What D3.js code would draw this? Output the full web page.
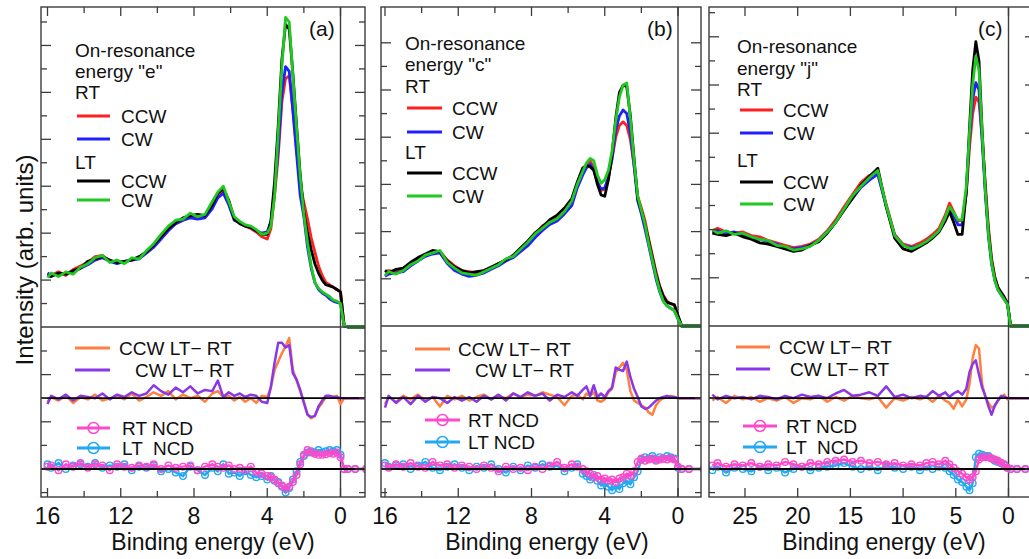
<!DOCTYPE html>
<html>
<head>
<meta charset="utf-8">
<script src="https://cdn.jsdelivr.net/npm/d3@7"></script>
<style>
  body { margin: 0; background: #fff; }
  svg { display: block; font-family: "Liberation Sans", Arial, sans-serif; }
  text { white-space: pre; fill: #111; }
</style>
</head>
<body>
<svg id="chart" width="1029" height="559"></svg>
<script>
// ---- panel (a): on-resonance energy "e" ----
const energyA = [16.0,15.8,15.4,15.0,14.6,14.2,13.8,13.4,13.0,12.6,12.2,11.8,11.4,11.0,
  10.6,10.2,9.8,9.4,9.0,8.6,8.2,7.8,7.4,7.0,
  6.7,6.4,6.1,5.8,5.5,5.2,4.9,4.6,4.3,4.0,
  3.8,3.6,3.4,3.2,3.0,2.8,2.6,2.4,2.2,2.0,1.8,1.6,1.4,1.2,1.0,0.8,0.6,0.4,0.2,0.0,
  -0.2,-0.4,-0.8,-1.4];
const rtCcwA = [2.25,2.20,2.35,2.20,2.45,2.60,2.75,3.00,3.05,2.80,2.80,2.75,2.90,2.95,
  3.20,3.45,3.80,4.20,4.40,4.55,4.70,4.65,4.70,5.15,
  5.55,5.80,5.30,4.60,4.45,4.30,4.20,4.05,3.85,3.75,
  4.20,5.60,7.30,9.60,10.60,10.70,9.30,7.60,6.10,5.30,4.60,3.80,3.20,2.60,2.20,1.90,1.80,1.70,1.60,1.50,
  0.05,0,0,0];
const rtCwA = [2.30,2.20,2.25,2.30,2.35,2.50,2.65,2.85,2.95,2.80,2.70,2.80,2.85,2.90,
  3.15,3.40,3.75,4.10,4.40,4.55,4.65,4.60,4.65,5.05,
  5.50,5.70,5.20,4.55,4.45,4.35,4.25,4.10,4.00,4.05,
  4.50,5.80,7.60,10.00,11.10,10.90,9.20,7.40,5.60,4.70,3.40,2.50,1.90,1.60,1.45,1.35,1.20,1.10,1.05,1.00,
  0.05,0,0,0];
const ltCcwA = [2.20,2.15,2.30,2.25,2.40,2.50,2.80,2.90,3.00,2.85,2.75,2.80,2.85,3.00,
  3.20,3.50,3.85,4.20,4.45,4.65,4.75,4.80,4.75,5.20,
  5.70,5.90,5.40,4.60,4.40,4.30,4.25,4.10,3.95,3.95,
  4.50,6.20,8.60,11.40,12.90,12.70,10.80,8.60,6.50,4.90,4.00,3.30,2.70,2.30,2.00,1.80,1.75,1.70,1.60,1.50,
  0.05,0,0,0];
const ltCwA = [2.10,2.30,2.15,2.35,2.25,2.55,2.70,2.95,3.05,2.75,2.85,2.70,2.95,2.90,
  3.25,3.55,3.95,4.30,4.55,4.60,4.85,4.70,4.80,5.35,
  5.75,6.00,5.35,4.70,4.50,4.35,4.30,4.15,3.95,4.00,
  4.30,5.60,8.30,11.10,13.20,13.00,10.70,8.50,6.40,4.80,3.60,2.60,1.90,1.65,1.50,1.40,1.30,1.15,1.10,1.00,
  0.05,0,0,0];
const diffCcwA = [-0.15,0.05,-0.10,0.10,-0.20,0.05,-0.05,0.15,-0.10,0.00,0.10,-0.05,0.20,-0.10,
  0.05,0.25,0.10,0.30,-0.05,0.15,0.00,0.10,-0.15,0.20,
  0.30,0.05,0.10,-0.10,0.05,-0.15,0.00,-0.20,0.10,0.05,
  0.45,1.20,1.55,1.90,2.20,2.55,1.20,0.75,0.30,-0.15,-0.70,-0.85,-0.75,-0.40,-0.20,0.05,0.10,0.05,0.10,-0.25,
  0,0,0,0];
const diffCwA = [-0.25,0.10,-0.05,0.15,-0.10,0.10,0.05,0.00,0.20,-0.05,0.15,0.05,0.25,0.10,
  0.20,0.55,0.30,0.15,0.45,0.25,0.50,0.20,0.35,0.30,
  0.75,0.05,0.25,0.10,0.20,0.05,0.15,0.10,-0.15,-0.20,
  0.50,1.50,2.35,2.35,2.15,2.25,1.05,0.80,0.35,-0.20,-0.70,-0.80,-0.75,-0.35,-0.10,0.10,0.10,0.05,0.05,0.00,
  0,0,0,0];
const ncdRtA = [0.10,0.15,-0.05,0.20,0.10,0.25,0.05,0.20,0.15,-0.05,0.20,0.10,0.05,0.15,
  0.10,0.20,0.00,0.15,0.05,0.10,0.15,-0.05,0.10,0.20,
  0.10,0.05,0.15,0.00,0.05,-0.05,0.10,-0.15,-0.20,-0.30,
  -0.35,-0.45,-0.60,-0.70,-0.85,-0.75,-0.55,-0.25,0.20,0.60,0.80,0.70,0.65,0.60,0.60,0.62,0.68,0.65,0.70,0.50,
  0,0,0,0];
const ncdLtA = [0.20,0.05,0.25,0.00,0.15,0.20,0.10,0.25,0.05,0.15,0.10,0.20,-0.05,0.10,
  0.05,0.15,-0.10,0.00,-0.15,-0.30,0.10,-0.05,-0.25,0.05,
  -0.10,0.20,-0.20,-0.15,-0.30,-0.10,-0.25,-0.35,-0.30,-0.45,
  -0.30,-0.50,-0.55,-0.75,-1.00,-0.80,-0.45,-0.10,0.30,0.55,0.70,0.75,0.70,0.80,0.70,0.75,0.80,0.75,0.80,0.60,
  0,0,0,0];

// ---- panel (b): on-resonance energy "c" ----
const energyB = [16.0,15.8,15.4,15.0,14.6,14.2,13.8,13.4,13.0,12.6,12.2,11.8,
  11.4,11.0,10.6,10.2,9.8,9.4,9.0,8.6,8.2,7.8,7.4,7.0,
  6.6,6.2,5.8,5.5,5.2,
  5.0,4.8,4.6,4.4,4.2,4.0,3.8,3.6,3.4,3.2,3.0,2.8,2.6,2.4,2.2,2.0,1.8,1.6,1.4,1.2,1.0,0.8,0.6,0.4,0.2,0.0,
  -0.2,-0.6,-1.4];
const rtCcwB = [2.30,2.35,2.30,2.45,2.65,2.85,3.00,3.15,3.15,2.80,2.55,2.35,
  2.30,2.25,2.35,2.45,2.65,2.80,2.95,3.20,3.50,3.85,4.25,4.40,
  4.60,4.95,5.25,5.95,6.55,
  6.85,7.00,6.70,6.10,5.75,5.80,6.30,7.10,8.00,8.50,8.65,8.50,7.90,6.80,5.50,5.00,4.45,3.70,3.00,2.30,1.70,1.30,1.05,0.95,0.90,0.40,
  0,0,0];
const rtCwB = [2.10,2.20,2.25,2.30,2.55,2.75,2.95,3.05,3.10,2.65,2.35,2.20,
  2.10,2.15,2.25,2.40,2.55,2.75,2.90,3.15,3.40,3.75,4.05,4.30,
  4.45,4.75,5.10,5.85,6.40,
  6.70,6.85,6.60,6.10,5.80,5.85,6.30,7.10,8.30,8.90,9.15,9.00,8.20,6.80,5.30,4.75,4.10,3.40,2.70,2.00,1.45,1.05,0.85,0.75,0.65,0.30,
  0,0,0];
const ltCcwB = [2.35,2.25,2.40,2.45,2.70,2.90,3.05,3.20,3.15,2.75,2.50,2.35,
  2.25,2.30,2.35,2.50,2.65,2.80,3.00,3.30,3.60,3.95,4.20,4.50,
  4.70,5.00,5.40,6.10,6.70,
  6.80,6.75,6.60,6.00,5.55,5.50,6.20,7.30,8.80,9.90,10.20,10.15,8.90,7.10,5.40,4.90,4.30,3.60,2.90,2.20,1.65,1.25,1.00,0.95,0.90,0.45,
  0,0,0];
const ltCwB = [2.15,2.30,2.20,2.35,2.60,2.75,3.00,3.10,3.20,2.70,2.45,2.25,
  2.20,2.15,2.30,2.45,2.60,2.85,2.95,3.25,3.55,3.90,4.15,4.40,
  4.55,4.85,5.30,6.00,6.55,
  6.90,7.10,7.00,6.40,6.05,6.20,6.60,7.40,8.70,9.70,10.20,10.30,8.80,7.00,5.50,4.90,4.30,3.50,2.80,2.10,1.50,1.05,0.85,0.75,0.65,0.30,
  0,0,0];
const diffCcwB = [-0.25,0.05,-0.15,0.10,-0.05,0.15,-0.10,0.05,-0.35,0.10,-0.05,0.10,
  -0.10,0.05,0.15,-0.05,0.10,0.00,0.20,0.05,0.15,0.10,0.25,0.15,
  0.05,-0.30,0.10,0.15,-0.05,
  0.20,0.10,0.25,-0.10,-0.15,-0.05,0.25,0.40,1.10,1.30,1.50,1.20,0.30,-0.10,-0.20,-0.30,-0.40,-0.60,-0.70,-0.30,-0.10,0.00,0.05,0.10,0.05,0.00,
  0,0,0];
const diffCwB = [-0.40,0.10,-0.20,0.05,-0.25,0.10,-0.15,0.05,0.00,-0.20,0.05,-0.10,
  0.05,-0.15,0.10,-0.05,0.15,-0.10,0.20,0.05,0.25,0.10,0.20,-0.10,
  0.15,0.05,0.25,0.10,0.35,
  0.50,0.10,0.55,0.05,0.20,0.05,0.30,0.45,1.30,1.20,1.15,1.55,0.90,0.40,0.05,-0.35,-0.45,-0.40,-0.25,-0.10,0.00,0.05,0.10,0.05,0.05,0.00,
  0,0,0];
const ncdRtB = [0.15,0.05,0.20,0.10,0.25,0.10,0.05,0.30,0.15,0.20,0.05,0.15,
  0.10,0.00,0.15,0.05,-0.10,0.10,0.00,0.05,-0.05,0.10,0.00,0.15,
  0.30,0.05,0.20,0.10,0.00,
  -0.10,-0.20,-0.35,-0.30,-0.45,-0.40,-0.50,-0.45,-0.55,-0.40,-0.35,-0.20,-0.30,-0.10,0.30,0.45,0.35,0.40,0.45,0.35,0.40,0.45,0.40,0.45,0.40,0.10,
  0,0,0];
const ncdLtB = [0.25,0.10,0.15,0.20,0.00,0.15,0.30,0.05,-0.05,0.10,0.20,0.05,
  -0.05,0.10,0.05,0.20,0.00,-0.15,0.10,-0.05,0.15,0.05,0.20,0.10,
  0.15,-0.10,0.05,0.20,-0.20,
  -0.30,-0.45,-0.25,-0.50,-0.70,-0.60,-0.75,-0.90,-0.70,-0.85,-0.60,-0.50,-0.65,-0.35,-0.10,0.40,0.50,0.45,0.55,0.40,0.50,0.45,0.55,0.50,0.45,0.05,
  0,0,0];

// ---- panel (c): on-resonance energy "j" ----
const energyC = [28.1,27.6,26.8,26.0,25.2,24.4,23.6,22.8,22.0,21.2,20.4,19.6,18.8,18.0,17.2,16.4,15.6,14.8,14.0,13.2,12.4,11.6,10.8,10.0,9.2,8.4,
  7.8,7.2,6.6,6.0,5.6,5.2,4.8,4.4,4.0,3.7,3.4,3.1,2.8,2.5,2.2,1.9,1.6,1.3,1.0,0.7,0.4,0.1,
  -0.2,-0.8,-1.6,-2.4];
const rtCcwC = [3.95,4.05,3.90,3.85,3.90,3.75,3.70,3.55,3.45,3.35,3.25,3.30,3.40,3.60,3.95,4.40,4.95,5.45,5.95,6.25,6.30,5.05,3.80,3.40,3.30,3.45,
  3.60,3.80,4.05,4.60,5.10,4.75,4.35,4.40,5.50,7.40,8.80,9.50,9.30,7.80,5.90,4.10,2.80,2.05,1.60,1.35,1.15,0.95,
  0,0,0,0];
const rtCwC = [3.90,3.95,3.85,3.90,3.80,3.65,3.60,3.50,3.40,3.25,3.20,3.25,3.35,3.55,3.90,4.30,4.85,5.30,5.75,6.05,6.30,4.95,3.75,3.35,3.25,3.35,
  3.50,3.70,3.95,4.45,4.85,4.60,4.20,4.20,5.60,7.80,9.40,10.10,9.80,7.70,5.50,3.70,2.55,1.90,1.50,1.30,1.10,0.90,
  0,0,0,0];
const ltCcwC = [3.85,3.80,3.75,3.85,3.70,3.60,3.45,3.40,3.30,3.20,3.10,3.15,3.35,3.50,3.85,4.30,4.80,5.30,5.85,6.20,6.55,4.95,3.65,3.20,3.10,3.30,
  3.45,3.65,3.90,4.35,4.75,4.30,3.80,3.80,5.60,8.20,10.60,11.80,11.00,8.10,5.70,3.90,2.70,2.00,1.60,1.40,1.20,0.95,
  0,0,0,0];
const ltCwC = [4.00,3.85,3.95,3.80,3.85,3.70,3.60,3.55,3.35,3.30,3.15,3.20,3.30,3.55,3.90,4.30,4.85,5.40,5.80,6.15,6.45,5.00,3.75,3.35,3.20,3.35,
  3.50,3.70,3.95,4.50,4.95,4.70,4.40,4.40,5.80,8.00,10.00,11.20,10.60,8.00,5.60,3.80,2.60,1.90,1.50,1.30,1.10,0.90,
  0,0,0,0];
const diffCcwC = [-0.10,0.05,-0.20,0.10,-0.05,0.05,-0.15,0.00,-0.10,0.05,-0.20,0.00,-0.05,0.10,-0.15,0.05,-0.10,0.10,0.00,-0.05,0.05,-0.40,0.00,-0.10,0.05,-0.05,
  0.05,-0.15,0.10,-0.10,-0.20,-0.45,-0.05,-0.35,-0.05,0.60,1.70,2.25,2.10,0.60,0.05,-0.20,-0.40,-0.35,-0.10,0.05,0.15,-0.05,
  0,0,0,0];
const diffCwC = [0.15,-0.05,0.10,0.00,0.05,-0.05,0.10,0.05,-0.05,0.10,0.00,0.15,0.05,0.10,0.00,0.20,0.35,0.10,0.15,0.25,0.10,0.50,0.05,0.15,0.00,0.10,
  0.05,0.30,0.10,0.25,0.05,0.20,0.30,0.15,0.40,1.10,1.45,1.60,1.00,0.45,0.10,-0.35,-0.70,-0.30,-0.10,0.10,0.05,0.00,
  0,0,0,0];
const ncdRtC = [0.15,0.25,0.10,0.20,0.15,0.25,0.10,0.20,0.15,0.30,0.20,0.10,0.25,0.20,0.30,0.35,0.40,0.30,0.35,0.25,0.30,0.20,0.25,0.15,0.20,0.15,
  0.25,0.30,0.20,0.35,0.20,0.05,-0.10,-0.20,-0.35,-0.45,-0.35,-0.10,0.40,0.50,0.50,0.50,0.45,0.40,0.35,0.25,0.20,0.05,
  0,0,0,0];
const ncdLtC = [-0.05,0.10,-0.15,0.05,0.00,-0.10,0.10,-0.05,0.05,-0.15,0.00,0.10,-0.05,0.05,0.10,0.15,0.25,0.10,0.00,0.10,-0.05,0.15,0.05,0.00,0.10,-0.05,
  0.10,0.00,0.10,0.05,-0.10,-0.25,-0.45,-0.55,-0.75,-0.90,-0.60,0.50,0.65,0.60,0.55,0.55,0.45,0.35,0.30,0.25,0.15,0.05,
  0,0,0,0];

const seriesNames = ['CCW', 'CW'];
const diffNames   = ['CCW LT\u2212 RT', 'CW LT\u2212 RT'];

// ---- layout ----
const TOP = 7, BOTTOM = 497;
const DIFF_BASE = 3;     // diff curves sit 3 ticks above the NCD zero
const FRAME = '#3c3c3c';
const col = {
  rtCcw: '#ff2020', rtCw: '#2020ff', ltCcw: '#000000', ltCw: '#20c820',
  dCcw: '#ff8040', dCw: '#8a38e6', ncdRt: '#ff48ca', ncdLt: '#24a8f2'
};

const panels = [
  { tag: '(a)', tagX: 309, left: 41, right: 365, div: 327,
    x: d3.scaleLinear().domain([16, 0]).range([47.5, 340.5]),
    xTicks: d3.range(16, -1, -2), xMajor: [16, 12, 8, 4, 0],
    y: d3.scaleLinear().domain([0, 13]).range([327, 22]), yMax: 13,
    energy: energyA,
    spectra: [[rtCcwA, col.rtCcw], [rtCwA, col.rtCw], [ltCcwA, col.ltCcw], [ltCwA, col.ltCw]],
    diffs: [[diffCcwA, col.dCcw], [diffCwA, col.dCw]],
    ncd: [[ncdLtA, col.ncdLt], [ncdRtA, col.ncdRt]],
    res: 'e', titleX: 213,
    leg: { tx: 75, l0: 77, l1: 110, ix: 121, on: 57, en: 78, rt: 99, lt: 169, lines: [116, 139, 181, 200] },
    low: { l0: 75, l1: 110, ccwX: 119, cwX: 135, dy: [348, 370], n0: 77, n1: 110, nx: 122, ny: [428, 448], ltName: 'LT  NCD' } },
  { tag: '(b)', tagX: 647, left: 381, right: 701, div: 326,
    x: d3.scaleLinear().domain([16, 0]).range([385, 678]),
    xTicks: d3.range(16, -1, -2), xMajor: [16, 12, 8, 4, 0],
    y: d3.scaleLinear().domain([0, 12]).range([326, 42.8]), yMax: 12,
    energy: energyB,
    spectra: [[rtCcwB, col.rtCcw], [rtCwB, col.rtCw], [ltCcwB, col.ltCcw], [ltCwB, col.ltCw]],
    diffs: [[diffCcwB, col.dCcw], [diffCwB, col.dCw]],
    ncd: [[ncdLtB, col.ncdLt], [ncdRtB, col.ncdRt]],
    res: 'c', titleX: 547,
    leg: { tx: 405, l0: 407, l1: 442, ix: 452, on: 50, en: 71, rt: 93, lt: 159, lines: [108, 132, 173, 196] },
    low: { l0: 415, l1: 450, ccwX: 458, cwX: 475, dy: [349, 370], n0: 425, n1: 460, nx: 468, ny: [420, 442], ltName: 'LT NCD' } },
  { tag: '(c)', tagX: 978, left: 709, right: 1035, div: 326,
    x: d3.scaleLinear().domain([25, 0]).range([745, 1008.5]),
    xTicks: d3.range(25, -1, -5), xMajor: d3.range(25, -1, -5),
    y: d3.scaleLinear().domain([0, 13]).range([326, 12.7]), yMax: 13,
    energy: energyC,
    spectra: [[rtCcwC, col.rtCcw], [rtCwC, col.rtCw], [ltCcwC, col.ltCcw], [ltCwC, col.ltCw]],
    diffs: [[diffCcwC, col.dCcw], [diffCwC, col.dCw]],
    ncd: [[ncdLtC, col.ncdLt], [ncdRtC, col.ncdRt]],
    res: 'j', titleX: 884,
    leg: { tx: 737, l0: 740, l1: 773, ix: 783, on: 53, en: 75, rt: 96, lt: 167, lines: [110, 133, 182, 204] },
    low: { l0: 736, l1: 770, ccwX: 779, cwX: 790, dy: [347, 369], n0: 743, n1: 777, nx: 786, ny: [426, 447], ltName: 'LT  NCD' } }
];

const yLow = d3.scaleLinear().domain([0, 3]).range([469, 398.2]);
const svg = d3.select('#chart');
const defs = svg.append('defs');

function hline(g, x0, x1, y, stroke, w) {
  g.append('line').attr('x1', x0).attr('x2', x1).attr('y1', y).attr('y2', y)
   .attr('stroke', stroke).attr('stroke-width', w);
}
function vline(g, x, y0, y1, stroke, w) {
  g.append('line').attr('x1', x).attr('x2', x).attr('y1', y0).attr('y2', y1)
   .attr('stroke', stroke).attr('stroke-width', w);
}
function label(g, x, y, str, size, anchor) {
  return g.append('text').attr('x', x).attr('y', y).attr('font-size', size)
          .attr('text-anchor', anchor || 'start').text(str);
}

panels.forEach((p, pi) => {
  const g = svg.append('g');
  const x = p.x;

  defs.append('clipPath').attr('id', 'clip' + pi).append('rect')
      .attr('x', p.left).attr('y', TOP).attr('width', p.right - p.left).attr('height', BOTTOM - TOP);
  const plot = g.append('g').attr('clip-path', `url(#clip${pi})`);

  // 0 eV marker line, full height
  vline(plot, x(0), TOP, BOTTOM, FRAME, 1.4);

  // upper spectra
  p.spectra.forEach(([vals, c]) => {
    const line = d3.line().x((d, i) => x(p.energy[i])).y(d => p.y(d));
    plot.append('path').datum(vals).attr('d', line)
        .attr('fill', 'none').attr('stroke', c).attr('stroke-width', 2.8)
        .attr('stroke-linejoin', 'round');
  });

  // LT - RT difference curves
  p.diffs.forEach(([vals, c]) => {
    const line = d3.line().x((d, i) => x(p.energy[i])).y(d => yLow(d + DIFF_BASE));
    plot.append('path').datum(vals).attr('d', line)
        .attr('fill', 'none').attr('stroke', c).attr('stroke-width', 2.5)
        .attr('stroke-linejoin', 'round');
  });

  // NCD curves with open circle markers
  p.ncd.forEach(([vals, c]) => {
    const line = d3.line().x((d, i) => x(p.energy[i])).y(d => yLow(d));
    plot.append('path').datum(vals).attr('d', line)
        .attr('fill', 'none').attr('stroke', c).attr('stroke-width', 2.4);
    plot.append('g').selectAll('circle').data(vals).join('circle')
        .attr('cx', (d, i) => x(p.energy[i])).attr('cy', d => yLow(d)).attr('r', 3.3)
        .attr('fill', 'none').attr('stroke', c).attr('stroke-width', 1.4);
  });

  // zero lines of the lower part
  hline(plot, p.left, p.right, yLow(DIFF_BASE), '#000', 1.8);
  hline(plot, p.left, p.right, yLow(0), '#000', 1.8);

  // frame
  g.append('rect').attr('x', p.left).attr('y', TOP)
   .attr('width', p.right - p.left).attr('height', BOTTOM - TOP)
   .attr('fill', 'none').attr('stroke', FRAME).attr('stroke-width', 1.4);
  hline(g, p.left, p.right, p.div, FRAME, 1.4);

  // y ticks, inward on both sides
  const yTick = (yy, v) => {
    const len = v % 2 === 0 ? 10 : 6;
    hline(g, p.left, p.left + len, yy, FRAME, 1.3);
    hline(g, p.right - len, p.right, yy, FRAME, 1.3);
  };
  d3.range(1, p.yMax + 1).forEach(v => yTick(p.y(v), v));
  d3.range(-1, 6).forEach(v => yTick(yLow(v), v));

  // x ticks, top and bottom, inward
  p.xTicks.forEach(t => {
    const len = p.xMajor.includes(t) ? 9 : 6;
    vline(g, x(t), TOP, TOP + len, FRAME, 1.3);
    vline(g, x(t), BOTTOM - len, BOTTOM, FRAME, 1.3);
  });
  p.xMajor.forEach(t => label(g, x(t), 524, String(t), 23, 'middle'));
  label(g, p.titleX, 550, 'Binding energy (eV)', 23, 'middle');

  // panel tag
  label(g, p.tagX, 36, p.tag, 21);

  // upper legend
  const L = p.leg;
  label(g, L.tx, L.on, 'On-resonance', 19);
  label(g, L.tx, L.en, `energy "${p.res}"`, 19);
  label(g, L.tx, L.rt, 'RT', 19);
  label(g, L.tx, L.lt, 'LT', 19);
  p.spectra.forEach(([, c], i) => {
    const ly = L.lines[i];
    hline(g, L.l0, L.l1, ly, c, 3);
    label(g, L.ix, ly + 6.5, seriesNames[i % 2], 19);
  });

  // lower legend
  const W = p.low;
  p.diffs.forEach(([, c], i) => {
    hline(g, W.l0, W.l1, W.dy[i], c, 3);
    label(g, i === 0 ? W.ccwX : W.cwX, W.dy[i] + 6.5, diffNames[i], 19);
  });
  const ncdLegend = [[col.ncdRt, 'RT NCD'], [col.ncdLt, W.ltName]];
  ncdLegend.forEach(([c, name], i) => {
    const ly = W.ny[i];
    hline(g, W.n0, W.n1, ly, c, 3);
    g.append('circle').attr('cx', (W.n0 + W.n1) / 2).attr('cy', ly).attr('r', 5.5)
     .attr('fill', 'none').attr('stroke', c).attr('stroke-width', 1.5);
    label(g, W.nx, ly + 6.5, name, 19);
  });
});

// shared y axis title
svg.append('text').attr('transform', 'translate(33,260) rotate(-90)')
   .attr('text-anchor', 'middle').attr('font-size', 24).text('Intensity (arb. units)');
</script>
</body>
</html>
